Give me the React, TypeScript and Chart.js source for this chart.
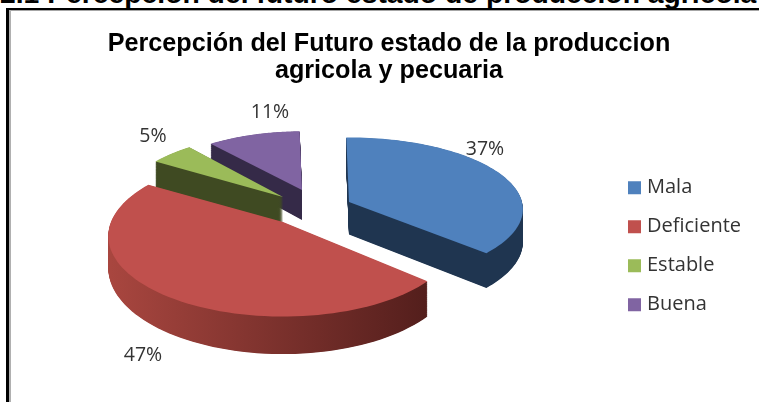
import React, { useEffect, useRef } from "react";
import { Chart, registerables } from "chart.js";

Chart.register(...registerables);

const categories = ["Mala", "Deficiente", "Estable", "Buena"];
const percentages = [37, 47, 5, 11];
const titleLines = ["Percepción del Futuro estado de la produccion", "agricola y pecuaria"];
const headingText = "2.1 Percepción del futuro estado de producción agrícola";

const topColors = ["#4f81bd", "#c0504d", "#9bbb59", "#8064a2"];
const sideColors: string[][] = [
  ["#1f3550", "#1f3550"],
  ["#a8463f", "#4c1b19"],
  ["#3f4a22", "#3f4a22"],
  ["#352a48", "#352a48"],
];
const sliceApex = [
  [349, 202],
  [283, 222],
  [283, 197],
  [302, 190],
];
const sliceRx = [173, 172, 163, 159];
const sliceRy = [71, 78, 74.4, 69];
const slicePerspective = [0.1, 0.175, 0.175, 0.175];
const sliceDepth = [32.5, 31, 30, 30];
const drawOrder = [3, 2, 0, 1];
const labelAnchors = [
  [485, 149],
  [143, 355],
  [153, 136],
  [270, 112],
];

const FONT = '"Open Sans", sans-serif';

function project(i: number, angle: number, r: number, drop: number) {
  const apex = sliceApex[i];
  const sx = Math.cos(angle) * r;
  const sy = Math.sin(angle) * r;
  const s = 1 / (1 - slicePerspective[i] * sy);
  return [apex[0] + sliceRx[i] * sx * s, apex[1] + sliceRy[i] * sy * s + drop * s];
}

function slicePath(ctx: CanvasRenderingContext2D, i: number, start: number, end: number, drop: number) {
  ctx.beginPath();
  const a = project(i, start, 0, drop);
  ctx.moveTo(a[0], a[1]);
  const n = 80;
  for (let j = 0; j <= n; j++) {
    const p = project(i, start + ((end - start) * j) / n, 1, drop);
    ctx.lineTo(p[0], p[1]);
  }
  ctx.closePath();
}

const pie3d = {
  id: "pie3d",
  beforeDatasetDraw(chart: any) {
    const ctx: CanvasRenderingContext2D = chart.ctx;
    const arcs = chart.getDatasetMeta(0).data;
    ctx.save();
    for (const i of drawOrder) {
      const { startAngle, endAngle } = arcs[i];
      const rx = sliceRx[i];
      const grad = ctx.createLinearGradient(sliceApex[i][0] - rx, 0, sliceApex[i][0] + rx, 0);
      grad.addColorStop(0, sideColors[i][0]);
      grad.addColorStop(1, sideColors[i][1]);
      ctx.fillStyle = grad;
      for (let d = sliceDepth[i]; d > 0; d -= 0.5) {
        slicePath(ctx, i, startAngle, endAngle, d);
        ctx.fill();
      }
      ctx.fillStyle = topColors[i];
      slicePath(ctx, i, startAngle, endAngle, 0);
      ctx.fill();
    }
    ctx.font = `19.5px ${FONT}`;
    ctx.fillStyle = "#333333";
    ctx.textAlign = "center";
    ctx.textBaseline = "middle";
    percentages.forEach((v, i) => {
      ctx.fillText(`${v}%`, labelAnchors[i][0], labelAnchors[i][1]);
    });
    ctx.restore();
    return false;
  },
};

export default function App() {
  const ref = useRef<HTMLCanvasElement>(null);
  useEffect(() => {
    document.body.style.margin = "0";
    const chart = new Chart(ref.current!, {
      type: "pie",
      data: {
        labels: categories,
        datasets: [{ data: percentages, backgroundColor: topColors, borderWidth: 0 }],
      },
      options: {
        animation: false,
        responsive: false,
        rotation: -1,
        layout: { padding: { top: 18, left: 27, right: 8, bottom: 0 } },
        plugins: {
          title: {
            display: true,
            text: titleLines,
            color: "#000000",
            font: { family: '"Liberation Sans", Arial, sans-serif', size: 25.2, weight: "bold", lineHeight: 1.08 },
            padding: { top: 12, bottom: 6 },
          },
          legend: {
            display: true,
            position: "right",
            fullSize: false,
            labels: {
              usePointStyle: true,
              pointStyle: "rect",
              boxWidth: 5,
              boxHeight: 13,
              padding: 19,
              color: "#333333",
              font: { family: FONT, size: 20 },
            },
          },
          tooltip: { enabled: false },
        },
      },
      plugins: [pie3d],
    } as any);
    return () => chart.destroy();
  }, []);
  return (
    <div style={{ position: "absolute", left: 0, top: 0, width: 759, height: 402, overflow: "hidden", background: "#fff" }}>
      <div
        style={{
          position: "absolute",
          left: 0,
          top: -21,
          width: 780,
          whiteSpace: "nowrap",
          font: 'bold 28.3px "Liberation Sans", Arial, sans-serif',
          lineHeight: "28px",
          color: "#000",
        }}
      >
        {headingText}
      </div>
      <canvas ref={ref} width={759} height={402} style={{ position: "absolute", left: 0, top: 0, background: "transparent" }} />
      <div style={{ position: "absolute", left: 6, top: 8, width: 753, height: 2, background: "#000" }} />
      <div style={{ position: "absolute", left: 9, top: 10, width: 750, height: 1, background: "#a6a6a6" }} />
      <div style={{ position: "absolute", left: 6, top: 8, width: 3, height: 394, background: "#000" }} />
      <div style={{ position: "absolute", left: 9, top: 10, width: 2, height: 392, background: "#b0b0b0" }} />
    </div>
  );
}
